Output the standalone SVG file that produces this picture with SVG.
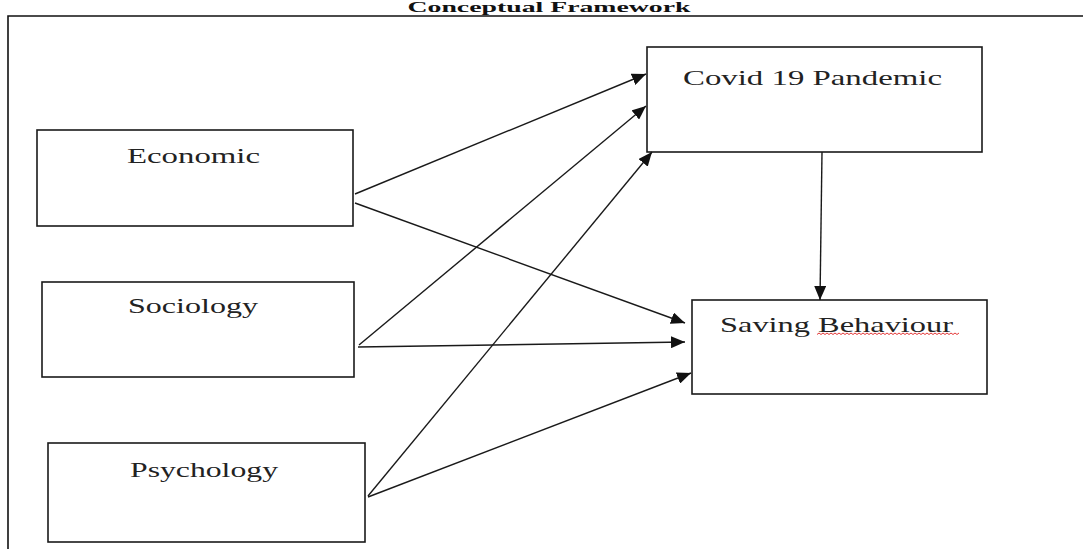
<svg xmlns="http://www.w3.org/2000/svg" width="1083" height="549" viewBox="0 0 1083 549">
  <style>
    .box { fill: #ffffff; stroke: #1a1a1a; stroke-width: 1.6; }
    .lbl { font-family: "Liberation Serif", "Times New Roman", serif; font-size: 21px; fill: #222222; }
    .title { font-family: "Liberation Serif", "Times New Roman", serif; font-size: 14px; font-weight: bold; fill: #111111; }
    .edge { stroke: #1a1a1a; stroke-width: 1.4; fill: none; marker-end: url(#arrow); }
    .frame { stroke: #111111; stroke-width: 1.6; fill: none; }
  </style>
  <defs>
    <marker id="arrow" markerUnits="userSpaceOnUse" markerWidth="14" markerHeight="12" viewBox="0 0 14 12" refX="14" refY="6" orient="auto">
      <path d="M0,0 L14,6 L0,12 Z" fill="#111111"/>
    </marker>
  </defs>
  <rect width="1083" height="549" fill="#ffffff"/>
  <text class="title" x="549" y="12" text-anchor="middle" textLength="283" lengthAdjust="spacingAndGlyphs">Conceptual Framework</text>
  <path class="frame" d="M8,549 L8,16 L1083,16"/>

  <g id="node-economic">
    <rect class="box" x="37" y="130" width="316" height="96"/>
    <text class="lbl" x="127" y="163" textLength="133" lengthAdjust="spacingAndGlyphs">Economic</text>
  </g>
  <g id="node-sociology">
    <rect class="box" x="42" y="282" width="312" height="95"/>
    <text class="lbl" x="128" y="313" textLength="130" lengthAdjust="spacingAndGlyphs">Sociology</text>
  </g>
  <g id="node-psychology">
    <rect class="box" x="48" y="443" width="317" height="99"/>
    <text class="lbl" x="130" y="477" textLength="148" lengthAdjust="spacingAndGlyphs">Psychology</text>
  </g>
  <g id="node-covid">
    <rect class="box" x="647" y="47" width="335" height="105"/>
    <text class="lbl" x="683" y="85" textLength="259" lengthAdjust="spacingAndGlyphs">Covid 19 Pandemic</text>
  </g>
  <g id="node-saving">
    <rect class="box" x="692" y="300" width="295" height="94"/>
    <text class="lbl" x="720" y="332" textLength="233" lengthAdjust="spacingAndGlyphs">Saving Behaviour</text>
    <path d="M817,334.5 l2,-1.5 l2,1.5 l2,-1.5 l2,1.5 l2,-1.5 l2,1.5 l2,-1.5 l2,1.5 l2,-1.5 l2,1.5 l2,-1.5 l2,1.5 l2,-1.5 l2,1.5 l2,-1.5 l2,1.5 l2,-1.5 l2,1.5 l2,-1.5 l2,1.5 l2,-1.5 l2,1.5 l2,-1.5 l2,1.5 l2,-1.5 l2,1.5 l2,-1.5 l2,1.5 l2,-1.5 l2,1.5 l2,-1.5 l2,1.5 l2,-1.5 l2,1.5 l2,-1.5 l2,1.5 l2,-1.5 l2,1.5 l2,-1.5 l2,1.5 l2,-1.5 l2,1.5 l2,-1.5 l2,1.5 l2,-1.5 l2,1.5 l2,-1.5 l2,1.5 l2,-1.5 l2,1.5 l2,-1.5 l2,1.5 l2,-1.5 l2,1.5 l2,-1.5 l2,1.5 l2,-1.5 l2,1.5 l2,-1.5 l2,1.5 l2,-1.5 l2,1.5 l2,-1.5 l2,1.5 l2,-1.5 l2,1.5 l2,-1.5 l2,1.5 l2,-1.5 l2,1.5 l2,-1.5" fill="none" stroke="#e02020" stroke-width="0.9"/>
  </g>

  <g id="connectors">
    <line class="edge" x1="355" y1="194" x2="646" y2="74"/>
    <line class="edge" x1="355" y1="203" x2="685" y2="323"/>
    <line class="edge" x1="359" y1="345" x2="646" y2="106"/>
    <line class="edge" x1="358" y1="347" x2="685" y2="342"/>
    <line class="edge" x1="368" y1="496" x2="652" y2="152"/>
    <line class="edge" x1="368" y1="497" x2="691" y2="373"/>
    <line class="edge" x1="822" y1="152" x2="820" y2="300"/>
  </g>
</svg>
